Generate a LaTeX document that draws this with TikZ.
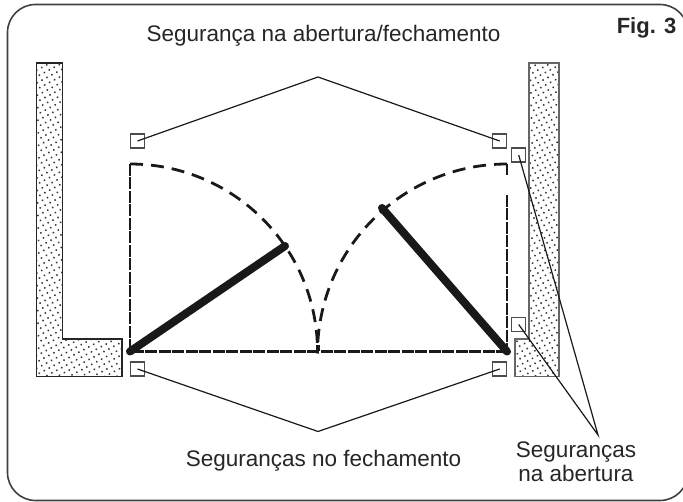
\documentclass[tikz,border=0pt]{standalone}
\usepackage{fontspec}
\setmainfont{Liberation Sans}
\usetikzlibrary{patterns.meta}
\tikzset{
    wall/.style={draw=black!85, line width=1.2pt, pattern={Dots[distance=5.6pt, radius=1.05pt, angle=28]}, pattern color=black!80},
    sensor/.style={rectangle, draw=black!70, line width=1.2pt, minimum size=14pt, inner sep=0pt},
    leader/.style={draw=black!90, line width=1.2pt},
    jamb/.style={line width=2.4pt, black!90, dash pattern=on 12pt off 1.5pt},
    swing/.style={line width=2.8pt, black!90, dash pattern=on 13pt off 8pt},
    leaf/.style={line width=8pt, black!90, line cap=round},
    label/.style={font=\fontsize{22.5}{25}\selectfont, text=black!85, inner sep=0pt, anchor=base}
}
\begin{document}
\begin{tikzpicture}[x=1pt, y=-1pt]
    \clip (0, 0) rectangle (683, 502);

    % Moldura
    \draw[black!75, line width=1.6pt, rounded corners=28pt] (7.5, 4.5) rectangle (688, 500.5);

    % Paredes
    \draw[wall] (36.5, 63) -- (62.5, 63) -- (62.5, 339) -- (122, 339) -- (122, 376.5) -- (36.5, 376.5) -- cycle;
    \draw[wall, draw=black!60] (529, 63) -- (559, 63) -- (559, 376.5) -- (515, 376.5) -- (515, 339) -- (529, 339) -- cycle;

    % Dobradiças e pontos de encontro
    \coordinate (HL) at (130, 351.5);
    \coordinate (HR) at (507, 351.5);
    \coordinate (TL) at (130, 164);
    \coordinate (TR) at (507, 164);
    \coordinate (LeafL) at (285, 246);
    \coordinate (LeafR) at (382, 208);
    \coordinate (ApexTop) at (318, 77);
    \coordinate (ApexBottom) at (318, 431.5);
    \coordinate (ApexRight) at (598, 435);

    % Batentes e soleira
    \draw[jamb] (TL) -- (HL) -- (HR);
    \draw[jamb] (TR) -- (507, 175);
    \draw[jamb] (507, 195) -- (HR);

    % Arcos de abertura
    \draw[swing] (TL) arc[start angle=-90, end angle=0, radius=187.5];
    \draw[swing] (TR) arc[start angle=-90, end angle=-180, radius=189.5];
    \draw[line width=4pt, black!90] (317.5, 345) -- (317.5, 351.5);

    % Folhas do portão
    \draw[leaf] (HL) -- (LeafL);
    \draw[leaf] (HR) -- (LeafR);

    % Sensores
    \node[sensor] (S1) at (137.5, 141) {};
    \node[sensor] (S2) at (499.7, 141) {};
    \node[sensor] (S3) at (137.5, 369) {};
    \node[sensor] (S4) at (499.7, 369) {};
    \node[sensor] (S5) at (518.7, 155) {};
    \node[sensor] (S6) at (518.7, 324.5) {};

    % Linhas de chamada
    \draw[leader] (S1.center) -- (ApexTop) -- (S2.center);
    \draw[leader] (S3.center) -- (ApexBottom) -- (S4.center);
    \draw[leader] (S5.center) -- (ApexRight) -- (S6.center);

    % Textos
    \node[label] (T1) at (323.5, 42) {Segurança na abertura/fechamento};
    \node[label] (T2) at (323.5, 466.5) {Seguranças no fechamento};
    \node[label] (T3) at (576, 457) {Seguranças};
    \node[label] (T4) at (576, 482) {na abertura};
    \node[label, font=\fontsize{22}{25}\selectfont\bfseries] (T5) at (646.5, 34) {Fig. 3};

\end{tikzpicture}
\end{document}
